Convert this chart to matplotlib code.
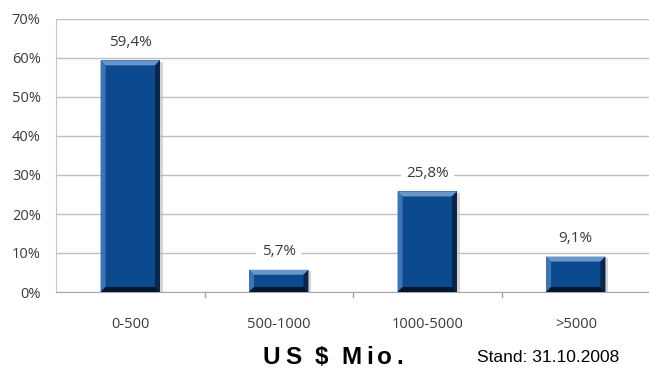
import matplotlib
matplotlib.use("Agg")
import matplotlib.pyplot as plt
from matplotlib.patches import Polygon, Rectangle
from matplotlib.font_manager import FontProperties

categories = ["0-500", "500-1000", "1000-5000", ">5000"]
values = [59.4, 5.7, 25.8, 9.1]
labels = ["59,4%", "5,7%", "25,8%", "9,1%"]
yticks = [0, 10, 20, 30, 40, 50, 60, 70]
ytick_labels = ["0%", "10%", "20%", "30%", "40%", "50%", "60%", "70%"]
title = "US $ Mio."
note = "Stand: 31.10.2008"

W, H = 649, 373
fig = plt.figure(figsize=(W / 100, H / 100), dpi=100)
ax_l, ax_r, ax_b, ax_t = 56, 650, 292, 19
ax = fig.add_axes([ax_l / W, (H - ax_b) / H, (ax_r - ax_l) / W, (ax_b - ax_t) / H])
ax.set_xlim(-0.5, 3.5)
ax.set_ylim(0, 70)

font = "Open Sans"
tc = "#3A3A3A"
ax.set_yticks(yticks)
ax.set_yticklabels(ytick_labels, fontsize=10.5, color=tc, family=font)
ax.yaxis.grid(True, color="#C0C0C0", lw=1)
ax.set_axisbelow(True)
ax.tick_params(axis="y", length=0, pad=11)
ax.set_xticks(range(len(categories)))
ax.set_xticklabels(categories, fontsize=10.5, color=tc, family=font)
ax.tick_params(axis="x", length=0, pad=18)
for b in [0.5, 1.5, 2.5]:
    ax.plot([b, b], [0, -1.4], color="#A0A0A0", lw=1, clip_on=False)
for s in ["top", "right"]:
    ax.spines[s].set_visible(False)
ax.spines["left"].set_color("#C8C8C8")
ax.spines["bottom"].set_color("#A8A8A8")

width = 0.4
unit_px = (ax_r - ax_l) / 4
px_x = 5 / unit_px
px_y = 70 / (ax_b - ax_t) * 5
main = "#0B4A8E"
for i, v in enumerate(values):
    x0, x1 = i - width / 2, i + width / 2
    ax.add_patch(Rectangle((x1, -0.3), 3 / unit_px, v, facecolor="#B8B8C0", edgecolor="none", zorder=2, alpha=0.6))
    ax.add_patch(Rectangle((x0, 0), width, v, facecolor=main, edgecolor="none", zorder=3))
    bx, by = px_x, min(px_y, v / 3)
    ax.add_patch(Polygon([(x0, v), (x1, v), (x1 - bx, v - by), (x0 + bx, v - by)], closed=True,
                         facecolor="#6A96C8", edgecolor="none", zorder=4))
    ax.add_patch(Polygon([(x0, v), (x0 + bx, v - by), (x0 + bx, by), (x0, 0)], closed=True,
                         facecolor="#3E74B2", edgecolor="none", zorder=4))
    ax.add_patch(Polygon([(x1, v), (x1 - bx, v - by), (x1 - bx, by), (x1, 0)], closed=True,
                         facecolor="#0A2648", edgecolor="none", zorder=4))
    ax.add_patch(Polygon([(x0, 0), (x0 + bx, by), (x1 - bx, by), (x1, 0)], closed=True,
                         facecolor="#05162E", edgecolor="none", zorder=4))
    ax.annotate(labels[i], (i, v), xytext=(0, 13), textcoords="offset points", ha="center", va="center",
                fontsize=11, color=tc, family=font, zorder=5,
                bbox=dict(boxstyle="square,pad=0.35", facecolor="white", edgecolor="none"))

# letter-spaced bold title
fp = FontProperties(family="Liberation Sans", weight="bold", size=17.5)
renderer = fig.canvas.get_renderer()
space_px = 5.0
target_w = 140.0
advs = []
for ch in title:
    if ch == " ":
        advs.append(space_px)
    else:
        t = fig.text(0, 0, ch, fontproperties=fp)
        advs.append(t.get_window_extent(renderer).width)
        t.remove()
track = max(0.5, (target_w - sum(advs)) / (len(title) - 1))
total = sum(advs) + track * (len(title) - 1)
cx, cy = 333, 357
x = cx - total / 2
for ch, a in zip(title, advs):
    if ch != " ":
        fig.text(x / W, 1 - cy / H, ch, ha="left", va="center", fontproperties=fp, color="black")
    x += a + track

fig.text(548 / W, 1 - 358 / H, note, ha="center", va="center", fontsize=12.5,
         family="Liberation Sans", color="black")

fig.savefig("out.png", dpi=100)
